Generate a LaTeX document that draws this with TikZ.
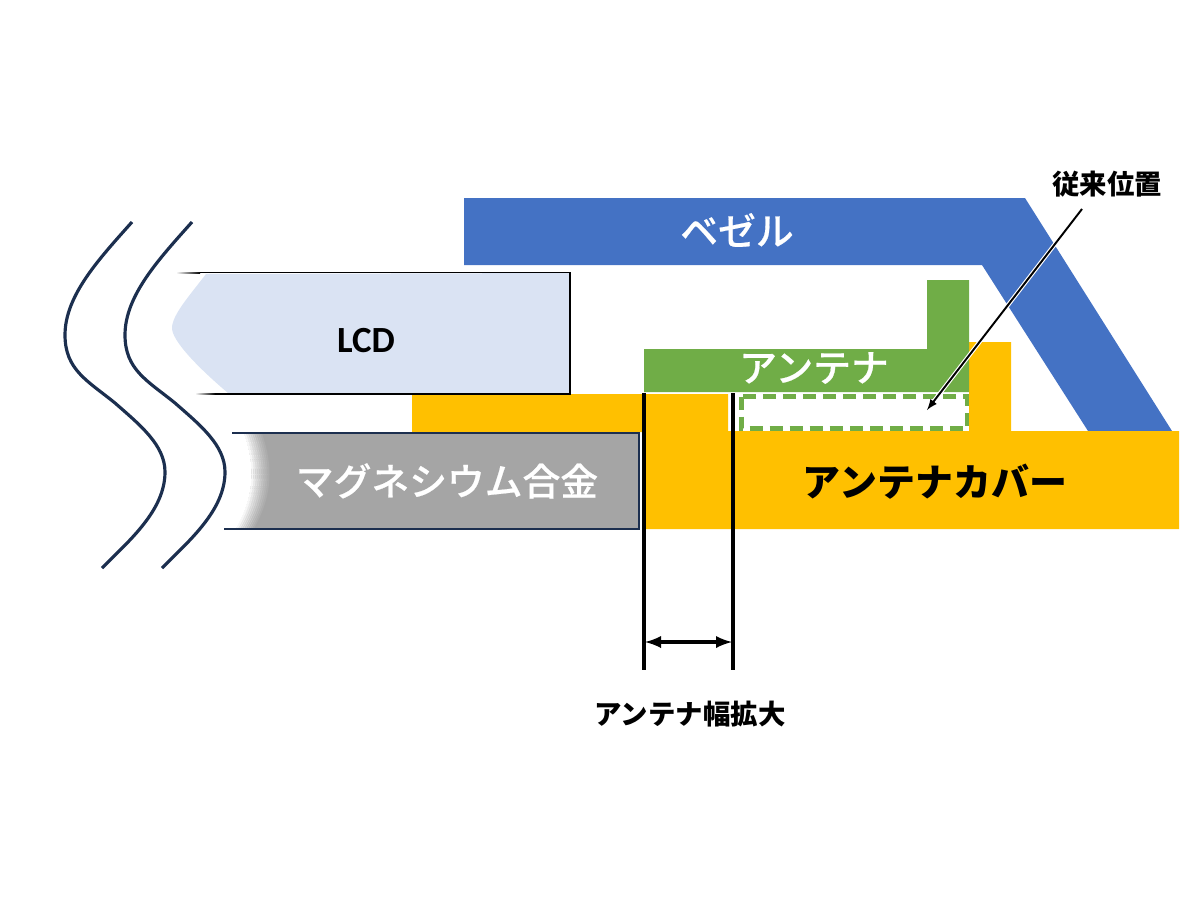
\documentclass[tikz,border=0pt]{standalone}
\usepackage{fontspec}
\setmainfont{Carlito}
\newfontfamily\jpfont{Noto Sans CJK JP}
\newfontfamily\jpmedium[FakeBold=0.5]{Noto Sans CJK JP Medium}
\usetikzlibrary{calc,positioning}

\definecolor{bezelblue}{HTML}{4472C4}
\definecolor{lcdblue}{HTML}{DAE3F3}
\definecolor{coveryellow}{HTML}{FFC000}
\definecolor{antgreen}{HTML}{70AD47}
\definecolor{alloygrey}{HTML}{A5A5A5}
\definecolor{wavenavy}{HTML}{1C2F4F}

\tikzset{
    bigwhite/.style={font=\jpmedium\fontsize{21.5}{24}\selectfont, text=white, inner sep=0pt},
    bigblack/.style={font=\jpfont\bfseries\fontsize{21.6}{24}\selectfont, inner sep=0pt},
    smallblack/.style={font=\jpfont\bfseries\fontsize{15.6}{18}\selectfont, inner sep=0pt},
    dimline/.style={line width=2.3pt, black},
}

\begin{document}
\begin{tikzpicture}[x=0.2mm, y=-0.2mm]

    \useasboundingbox (0,0) rectangle (1200,900);

    % Bezel
    \fill[bezelblue] (464,198) -- (1025,198) -- (1172,431) -- (1088,431)
        -- (982,265) -- (464,265) -- cycle;

    % Cover with the tower next to the antenna
    \fill[coveryellow] (412,394) -- (728,394) -- (728,431) -- (969,431)
        -- (969,342) -- (1011,342) -- (1011,431) -- (1179,431) -- (1179,529)
        -- (644,529) -- (644,432) -- (412,432) -- cycle;

    % Antenna
    \fill[antgreen] (644,349) -- (927,349) -- (927,280) -- (969,280)
        -- (969,392) -- (644,392) -- cycle;

    % Old antenna position
    \draw[antgreen, line width=2.8pt, dash pattern=on 7.4pt off 4pt]
        (741.5,396.5) rectangle (967,428.5);

    % LCD, fading out to the left
    \fill[lcdblue] (206,274) .. controls (190,295) and (172,315) .. (172,328)
        .. controls (172,340) and (195,365) .. (228,393) -- (570,393) -- (570,273) -- cycle;
    \draw[black, line width=0.6pt] (200,272.5) -- (570,272.5) -- (570,394) -- (215,394);
    \shade[left color=white, right color=black] (176,272) rectangle (200,273);
    \shade[left color=white, right color=black] (195,393.5) rectangle (215,394.5);

    % Magnesium alloy, fading out to the left
    \fill[alloygrey] (243,434) .. controls (254,465) and (254,495) .. (235,529)
        -- (639,529) -- (639,434) -- cycle;
    \foreach \s/\o in {0/1,2/0.9,4/0.75,6/0.6,8/0.5,10/0.4,12/0.3,14/0.22,16/0.15,18/0.08}{
        \draw[white, opacity=\o, line width=1.2pt] ($(243,434)+(\s,0)$)
            .. controls ($(254,465)+(\s,0)$) and ($(254,495)+(\s,0)$) .. ($(235,528)+(\s,0)$);
    }
    \draw[wavenavy, line width=0.6pt] (232,433) -- (639,433) -- (639,529) -- (224,529);

    % Break lines
    \foreach \dx in {0mm,12mm}{
        \begin{scope}[xshift=\dx]
            \draw[wavenavy, line width=1.8pt] (132,222) .. controls (100,258) and (65,295) .. (65,335)
                .. controls (65,370) and (88,381) .. (115,403)
                .. controls (140,425) and (165,445) .. (165,472)
                .. controls (165,510) and (130,540) .. (102,568);
        \end{scope}
    }

    % Labels
    \node[bigwhite] (bezel) at (737,230) {ベゼル};
    \node[font=\bfseries\fontsize{21}{24}\selectfont, inner sep=0pt] (lcd) at (366,341) {LCD};
    \node[bigwhite] (alloy) at (447,481) {マグネシウム合金};
    \node[bigwhite] (antenna) at (814,368) {アンテナ};
    \node[bigblack] (cover) at (935,482) {アンテナカバー};
    \node[smallblack] (oldpos) at (1107,184) {従来位置};
    \node[smallblack] (widen) at (690,714) {アンテナ幅拡大};

    % Arrow to the old position
    \coordinate (oldtip) at (927,410);
    \coordinate (oldtail) at (1082,209);
    \draw[white, line width=2.4pt] (oldtail) -- (oldtip);
    \draw[-latex, black, line width=1.1pt] (oldtail) -- (oldtip);

    % Width of the antenna
    \coordinate (leftup) at (644,393);
    \coordinate (leftdn) at (644,670);
    \coordinate (rightup) at (733,393);
    \coordinate (rightdn) at (733,670);
    \draw[dimline] (leftup) -- (leftdn);
    \draw[dimline] (rightup) -- (rightdn);
    \draw[latex-latex, line width=2.1pt] ($(leftdn)+(1,-28)$) -- ($(rightdn)+(-1,-28)$);

\end{tikzpicture}
\end{document}
